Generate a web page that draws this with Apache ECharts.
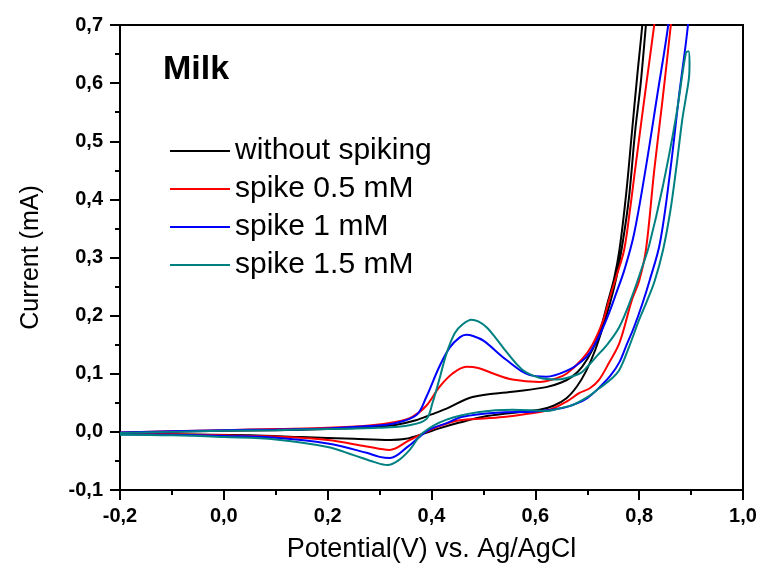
<!DOCTYPE html>
<html>
<head>
<meta charset="utf-8">
<script src="https://cdn.jsdelivr.net/npm/echarts@6/dist/echarts.min.js"></script>
<style>
  html, body { margin: 0; padding: 0; background: #fff; }
  #chart-container { width: 762px; height: 575px; }
</style>
</head>
<body>
<div id="chart-container"></div>
<script>
// series names + colours
var seriesNames = ['without spiking', 'spike 0.5 mM', 'spike 1 mM', 'spike 1.5 mM'];
var seriesColors = ['#000000', '#ff0000', '#0000ff', '#008080'];

// potential (V) and current (mA), forward scan then reverse scan
var blankE = [-0.2, -0.1, 0.0, 0.1, 0.2, 0.28, 0.33, 0.37, 0.4, 0.429, 0.479, 0.556, 0.621, 0.65, 0.671, 0.69, 0.71, 0.725, 0.74, 0.752, 0.762, 0.775, 0.786, 0.796, 0.806, 0.82,
              0.828, 0.813, 0.803, 0.792, 0.78, 0.766, 0.756, 0.745, 0.73, 0.715, 0.698, 0.68, 0.66, 0.635, 0.608, 0.55, 0.5, 0.454, 0.415, 0.385, 0.35, 0.32, 0.25, 0.15, 0.05, -0.1, -0.2];
var blankI = [-0.002, 0.0, 0.002, 0.003, 0.005, 0.008, 0.012, 0.02, 0.03, 0.04, 0.06, 0.069, 0.077, 0.085, 0.095, 0.112, 0.141, 0.175, 0.225, 0.265, 0.313, 0.41, 0.515, 0.61, 0.70, 0.85,
              0.85, 0.70, 0.60, 0.515, 0.40, 0.313, 0.265, 0.225, 0.18, 0.14, 0.105, 0.078, 0.058, 0.045, 0.038, 0.032, 0.026, 0.016, 0.006, -0.003, -0.012, -0.014, -0.012, -0.009, -0.006, -0.004, -0.003];

var spike05E = [-0.2, -0.1, 0.0, 0.1, 0.2, 0.28, 0.33, 0.363, 0.39, 0.415, 0.44, 0.467, 0.49, 0.52, 0.556, 0.608, 0.64, 0.66, 0.69, 0.71, 0.73, 0.742, 0.757, 0.771, 0.782, 0.792, 0.814, 0.829, 0.84,
                0.87, 0.861, 0.845, 0.829, 0.813, 0.8, 0.786, 0.762, 0.742, 0.723, 0.705, 0.685, 0.66, 0.627, 0.585, 0.544, 0.5, 0.454, 0.415, 0.39, 0.358, 0.319, 0.275, 0.2, 0.1, 0.0, -0.1, -0.2];
var spike05I = [-0.001, 0.001, 0.003, 0.005, 0.007, 0.011, 0.017, 0.026, 0.045, 0.077, 0.1, 0.112, 0.11, 0.1, 0.09, 0.086, 0.092, 0.10, 0.125, 0.15, 0.19, 0.227, 0.27, 0.313, 0.38, 0.45, 0.6, 0.70, 0.78,
                0.78, 0.70, 0.571, 0.45, 0.313, 0.26, 0.227, 0.153, 0.119, 0.09, 0.075, 0.067, 0.052, 0.038, 0.031, 0.026, 0.023, 0.02, 0.01, 0.0, -0.014, -0.031, -0.025, -0.014, -0.008, -0.006, -0.004, -0.003];

var spike1E = [-0.2, -0.1, 0.0, 0.1, 0.2, 0.28, 0.33, 0.371, 0.39, 0.415, 0.435, 0.455, 0.467, 0.48, 0.5, 0.544, 0.588, 0.621, 0.665, 0.69, 0.704, 0.723, 0.74, 0.756, 0.772, 0.79, 0.812, 0.835, 0.856, 0.865,
               0.9, 0.894, 0.877, 0.86, 0.84, 0.82, 0.806, 0.79, 0.775, 0.762, 0.745, 0.723, 0.7, 0.68, 0.652, 0.6, 0.525, 0.46, 0.429, 0.396, 0.375, 0.355, 0.32, 0.3, 0.275, 0.2, 0.1, 0.0, -0.1, -0.2];
var spike1I = [-0.001, 0.001, 0.003, 0.004, 0.006, 0.01, 0.015, 0.029, 0.06, 0.112, 0.145, 0.163, 0.167, 0.165, 0.157, 0.124, 0.098, 0.095, 0.107, 0.122, 0.135, 0.165, 0.2, 0.239, 0.28, 0.34, 0.45, 0.58, 0.70, 0.78,
               0.78, 0.70, 0.58, 0.45, 0.325, 0.26, 0.22, 0.18, 0.148, 0.12, 0.097, 0.076, 0.058, 0.049, 0.041, 0.035, 0.033, 0.026, 0.015, 0.004, -0.01, -0.025, -0.045, -0.043, -0.036, -0.02, -0.01, -0.007, -0.005, -0.004];

var spike15E = [-0.2, -0.1, 0.0, 0.1, 0.2, 0.3, 0.36, 0.39, 0.402, 0.415, 0.429, 0.445, 0.46, 0.477, 0.49, 0.506, 0.525, 0.544, 0.575, 0.608, 0.64, 0.685, 0.7, 0.717, 0.74, 0.762, 0.785, 0.806, 0.819, 0.845, 0.871, 0.89,
                0.895, 0.897, 0.896, 0.89, 0.883, 0.871, 0.86, 0.846, 0.83, 0.815, 0.8, 0.78, 0.762, 0.745, 0.723, 0.704, 0.685, 0.671, 0.645, 0.621, 0.556, 0.492, 0.429, 0.383, 0.358, 0.335, 0.315, 0.29, 0.25, 0.2, 0.1, 0.0, -0.1, -0.2];
var spike15I = [-0.002, 0.0, 0.002, 0.003, 0.005, 0.007, 0.012, 0.022, 0.05, 0.09, 0.135, 0.17, 0.185, 0.193, 0.19, 0.18, 0.16, 0.138, 0.107, 0.093, 0.09, 0.10, 0.112, 0.129, 0.152, 0.181, 0.23, 0.284, 0.32, 0.42, 0.542, 0.652,
                0.655, 0.635, 0.61, 0.575, 0.537, 0.451, 0.38, 0.313, 0.26, 0.225, 0.193, 0.145, 0.107, 0.09, 0.075, 0.062, 0.052, 0.046, 0.04, 0.036, 0.038, 0.034, 0.021, -0.002, -0.031, -0.05, -0.057, -0.052, -0.04, -0.026, -0.013, -0.009, -0.006, -0.005];

// axis ranges
var xMin = -0.2, xMax = 1.0, xStep = 0.2;
var yMin = -0.1, yMax = 0.7, yStep = 0.1;

function pairs(xs, ys) {
  return xs.map(function (x, i) { return [x, ys[i]]; });
}
var allE = [blankE, spike05E, spike1E, spike15E];
var allI = [blankI, spike05I, spike1I, spike15I];

function comma(v) {
  return v.toFixed(1).replace('.', ',');
}

var font = 'Liberation Sans, Arial, sans-serif';

var dom = document.getElementById('chart-container');
var myChart = echarts.init(dom, null, { renderer: 'canvas' });

var option = {
  animation: false,
  backgroundColor: '#fff',
  grid: {
    left: 120,
    right: 19,
    top: 25,
    bottom: 85,
    show: true,
    borderColor: '#000',
    borderWidth: 2
  },
  legend: {
    orient: 'vertical',
    left: 165,
    top: 131,
    icon: 'rect',
    itemWidth: 60,
    itemHeight: 2,
    itemGap: 8,
    data: seriesNames,
    textStyle: { fontFamily: font, fontSize: 30, color: '#000', lineHeight: 30 }
  },
  graphic: [{
    type: 'text',
    left: 163,
    top: 53,
    style: { text: 'Milk', fontFamily: font, fontSize: 34, fontWeight: 'bold', fill: '#000' }
  }],
  xAxis: {
    type: 'value',
    min: xMin,
    max: xMax,
    interval: xStep,
    name: 'Potential(V) vs. Ag/AgCl',
    nameLocation: 'middle',
    nameGap: 46,
    nameTextStyle: { fontFamily: font, fontSize: 27, color: '#000' },
    axisLine: { show: true, onZero: false, lineStyle: { color: '#000', width: 2 } },
    axisTick: { show: true, length: 10, lineStyle: { color: '#000', width: 2 } },
    minorTick: { show: true, splitNumber: 2, length: 5, lineStyle: { color: '#000', width: 2 } },
    splitLine: { show: false },
    axisLabel: { fontFamily: font, fontSize: 20, fontWeight: 'bold', color: '#000', margin: 16, formatter: comma }
  },
  yAxis: {
    type: 'value',
    min: yMin,
    max: yMax,
    interval: yStep,
    name: 'Current (mA)',
    nameLocation: 'middle',
    nameGap: 76,
    nameTextStyle: { fontFamily: font, fontSize: 25, color: '#000' },
    axisLine: { show: true, onZero: false, lineStyle: { color: '#000', width: 2 } },
    axisTick: { show: true, length: 10, lineStyle: { color: '#000', width: 2 } },
    minorTick: { show: true, splitNumber: 2, length: 5, lineStyle: { color: '#000', width: 2 } },
    splitLine: { show: false },
    axisLabel: { fontFamily: font, fontSize: 20, fontWeight: 'bold', color: '#000', margin: 17, formatter: comma }
  },
  series: seriesNames.map(function (name, k) {
    return {
      name: name,
      type: 'line',
      symbol: 'none',
      smooth: 0.35,
      clip: true,
      color: seriesColors[k],
      lineStyle: { color: seriesColors[k], width: 2 },
      data: pairs(allE[k], allI[k])
    };
  })
};

myChart.setOption(option);
window.addEventListener('resize', myChart.resize);
</script>
</body>
</html>
